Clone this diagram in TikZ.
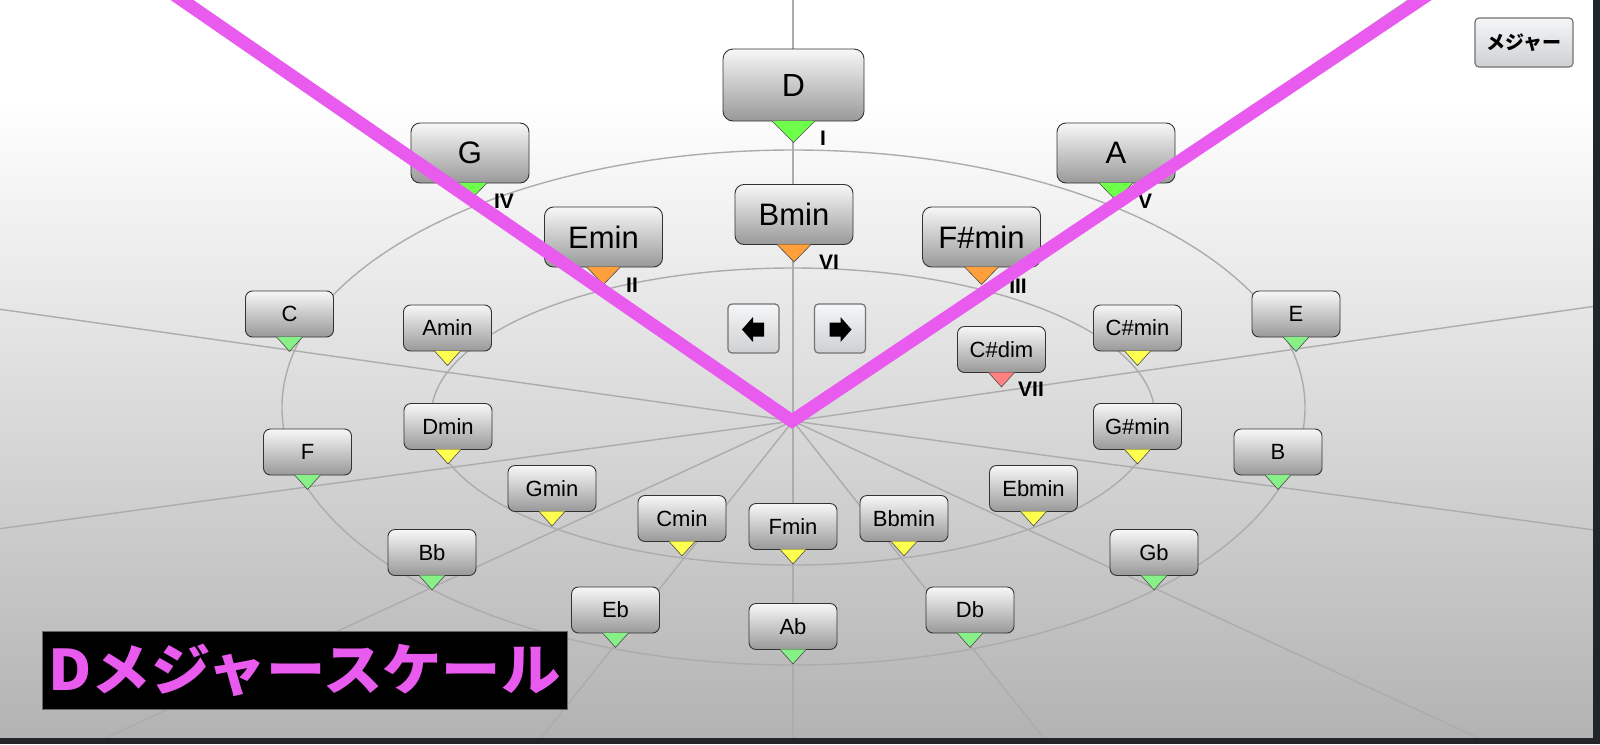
\documentclass[tikz,border=0pt]{standalone}
\usepackage{fontspec}
\setmainfont{Liberation Sans}
\newfontfamily\jp{Noto Sans CJK JP}
\usetikzlibrary{calc}
\definecolor{mag}{RGB}{233,91,239}
\definecolor{darkb}{RGB}{34,37,40}
\definecolor{gbig}{RGB}{110,255,75}
\definecolor{gsmall}{RGB}{135,240,135}
\definecolor{orng}{RGB}{255,160,60}
\definecolor{yell}{RGB}{255,255,80}
\definecolor{pinkc}{RGB}{255,128,128}
\definecolor{ringc}{RGB}{172,172,172}
\definecolor{btntop}{RGB}{244,246,248}
\definecolor{btnbot}{RGB}{206,208,210}
\definecolor{bgbot}{RGB}{178,178,178}
\tikzset{
  cbox/.style={draw=black!80, line width=0.9pt, top color=white!97!black, bottom color=black!40, inner sep=0pt, align=center},
  tonic/.style={cbox, minimum width=141pt, minimum height=72pt, rounded corners=10pt, font=\fontsize{32}{32}\selectfont},
  bigc/.style={cbox, minimum width=118pt, minimum height=60pt, rounded corners=9pt, font=\fontsize{31}{31}\selectfont},
  smallc/.style={cbox, minimum width=88pt, minimum height=46pt, rounded corners=7pt, font=\fontsize{22}{22}\selectfont},
  roman/.style={font=\fontsize{21}{21}\selectfont\bfseries, inner sep=0pt},
  ring/.style={draw=ringc, line width=1.4pt},
  spoke/.style={draw=ringc, line width=1.4pt},
  btn/.style={draw=black!55, line width=1.2pt, top color=btntop, bottom color=btnbot, rounded corners=4pt, inner sep=0pt},
}
\newcommand\tri[4]{%
  \filldraw[fill=#4, draw=black!70, line width=0.6pt]
    ($(#1.south)+(-#2/2,-0.5)$) -- ($(#1.south)+(0,#3)$) -- ($(#1.south)+(#2/2,-0.5)$);}
\begin{document}
\begin{tikzpicture}[x=1pt,y=-1pt]
\useasboundingbox (0,0) rectangle (1600,744);
\begin{scope}
\clip (0,0) rectangle (1593,738);
% background
\fill[white] (0,0) rectangle (1600,101);
\shade[top color=white, bottom color=bgbot] (0,100) rectangle (1600,744);
% rings
\draw[ring] (793.5,407.5) ellipse [x radius=511.5pt, y radius=257.5pt];
\draw[ring] (793,416.5) ellipse [x radius=362pt, y radius=148.5pt];
% spokes
\coordinate (ctr) at (793,421);
\foreach \px/\py in {793/142, 473/200, 289/350, 307/487, 431/588, 615/645, 793/662, 970/645, 1154/588, 1278/487, 1296/349, 1116/200}{
  \coordinate (tp) at (\px,\py);
  \draw[spoke] (ctr) -- ($(ctr)!5!(tp)$);
}
% big chords
\node[tonic] (cD) at (793.5,85) {D};
\tri{cD}{43}{21}{gbig}
\node[bigc] (cG) at (470,153) {G};
\tri{cG}{34}{17}{gbig}
\node[bigc] (cA) at (1116,153) {A};
\tri{cA}{34}{17}{gbig}
\node[bigc] (cEm) at (603.5,237) {Emin};
\tri{cEm}{34}{17}{orng}
\node[bigc] (cBm) at (794,214.5) {Bmin};
\tri{cBm}{34}{17}{orng}
\node[bigc] (cFsm) at (981.5,237) {F\#min};
\tri{cFsm}{34}{17}{orng}
% small majors
\node[smallc] (cC) at (289.5,314) {C};
\tri{cC}{26}{14}{gsmall}
\node[smallc] (cE) at (1296,314) {E};
\tri{cE}{26}{14}{gsmall}
\node[smallc] (cF) at (307.5,452) {F};
\tri{cF}{26}{14}{gsmall}
\node[smallc] (cB) at (1278,452) {B};
\tri{cB}{26}{14}{gsmall}
\node[smallc] (cBb) at (432,552.5) {Bb};
\tri{cBb}{26}{14}{gsmall}
\node[smallc] (cGb) at (1154,552.5) {Gb};
\tri{cGb}{26}{14}{gsmall}
\node[smallc] (cEb) at (615.5,610) {Eb};
\tri{cEb}{26}{14}{gsmall}
\node[smallc] (cDb) at (970,610) {Db};
\tri{cDb}{26}{14}{gsmall}
\node[smallc] (cAb) at (793,626.5) {Ab};
\tri{cAb}{26}{14}{gsmall}
% small minors
\node[smallc] (cAm) at (447.5,328) {Amin};
\tri{cAm}{26}{14}{yell}
\node[smallc] (cCsm) at (1137.5,328) {C\#min};
\tri{cCsm}{26}{14}{yell}
\node[smallc] (cDm) at (448,426.5) {Dmin};
\tri{cDm}{26}{14}{yell}
\node[smallc] (cGsm) at (1137.5,426.5) {G\#min};
\tri{cGsm}{26}{14}{yell}
\node[smallc] (cGm) at (552,488.5) {Gmin};
\tri{cGm}{26}{14}{yell}
\node[smallc] (cEbm) at (1033.5,488.5) {Ebmin};
\tri{cEbm}{26}{14}{yell}
\node[smallc] (cCm) at (682,518.5) {Cmin};
\tri{cCm}{26}{14}{yell}
\node[smallc] (cBbm) at (904,518.5) {Bbmin};
\tri{cBbm}{26}{14}{yell}
\node[smallc] (cFm) at (793,526.5) {Fmin};
\tri{cFm}{26}{14}{yell}
% diminished
\node[smallc] (cCsd) at (1001.5,349.5) {C\#dim};
\tri{cCsd}{26}{14}{pinkc}
% roman numerals
\node[roman] (rI) at (823,138) {I};
\node[roman] (rIV) at (504,201) {IV};
\node[roman] (rII) at (632,285) {II};
\node[roman] (rV) at (1145,201) {V};
\node[roman] (rVI) at (829,262) {VI};
\node[roman] (rIII) at (1018,286) {III};
\node[roman] (rVII) at (1031,389) {VII};
% arrow buttons
\node[btn, minimum width=51pt, minimum height=49pt] (bl) at (753.5,328.5) {};
\fill[black] ($(bl.center)+(-11.5,1)$) -- ($(bl.center)+(-0.5,-11.5)$) -- ($(bl.center)+(-0.5,-6)$)
  -- ($(bl.center)+(10.5,-6)$) -- ($(bl.center)+(10.5,8)$) -- ($(bl.center)+(-0.5,8)$)
  -- ($(bl.center)+(-0.5,13.5)$) -- cycle;
\node[btn, minimum width=51pt, minimum height=49pt] (br) at (840,328.5) {};
\fill[black] ($(br.center)+(11.5,1)$) -- ($(br.center)+(0.5,-11.5)$) -- ($(br.center)+(0.5,-6)$)
  -- ($(br.center)+(-10.5,-6)$) -- ($(br.center)+(-10.5,8)$) -- ($(br.center)+(0.5,8)$)
  -- ($(br.center)+(0.5,13.5)$) -- cycle;
% major button
\node[btn, minimum width=98pt, minimum height=49pt, font=\jp\bfseries\fontsize{19}{19}\selectfont] (bmaj) at (1524,42.5) {メジャー};
% magenta V
\coordinate (vl) at (182,0);
\coordinate (vc) at (792,421);
\coordinate (vr) at (1420,0);
\draw[mag, line width=13pt, line join=miter] ($(vc)!1.05!(vl)$) -- (vc) -- ($(vc)!1.05!(vr)$);
% title
\node[fill=black, draw=black!60, line width=0.8pt, minimum width=525pt, minimum height=78pt, inner sep=0pt,
  text=mag, font=\jp\bfseries\fontsize{56}{56}\selectfont] (title) at (304.5,670) {\scalebox{1.06}[1]{Dメジャースケール}};
\end{scope}
\fill[darkb] (1593,0) rectangle (1600,744);
\fill[darkb] (0,738) rectangle (1600,744);
\end{tikzpicture}
\end{document}
